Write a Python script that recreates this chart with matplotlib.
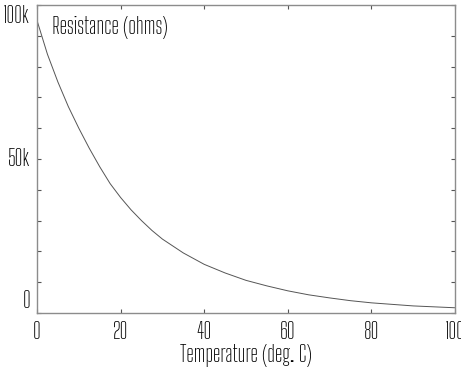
import matplotlib
matplotlib.use("Agg")
import matplotlib.pyplot as plt
from matplotlib.ticker import MultipleLocator

# thermistor curve
temps = [0, 2.5, 5, 7.5, 10, 12.5, 15, 17.5, 20, 22.5, 25, 27.5, 30, 35, 40, 45, 50,
         55, 60, 65, 70, 75, 80, 85, 90, 95, 100]
res_k = [95, 84, 75, 67, 60, 53.5, 47.5, 42, 37.5, 33.5, 30, 26.8, 24, 19.5, 15.8, 13, 10.6,
         8.8, 7.2, 5.9, 4.9, 4.0, 3.3, 2.8, 2.3, 2.0, 1.7]
resist = [r * 1000 for r in res_k]

xticks = [0, 20, 40, 60, 80, 100]
yticks = [0, 50000, 100000]
ytick_labels = ["0", "50k", "100k"]

plt.rcParams['font.family'] = ['Big Shoulders Text', 'DejaVu Sans']

fig = plt.figure(figsize=(4.61, 3.72), dpi=100)
ax = fig.add_axes([37 / 461, 59 / 372, 418 / 461, 308 / 372])

ax.plot(temps, resist, color='#555555', lw=0.7)

ax.set_xlim(0, 100)
ax.set_ylim(0, 100000)
ax.set_xticks(xticks)
ax.set_xticklabels([str(t) for t in xticks])
ax.set_yticks(yticks)
ax.set_yticklabels(ytick_labels)
ax.yaxis.set_minor_locator(MultipleLocator(10000))

for sp in ax.spines.values():
    sp.set_color('#8c8c8c')
    sp.set_linewidth(1.0)

ax.tick_params(which='both', direction='in', top=True, right=True,
               length=3, width=0.8, color='#555555', labelsize=16)
ax.tick_params(axis='x', pad=6)
ax.tick_params(axis='y', pad=5)

vas = ['bottom', 'center', 'top']
for lbl, va in zip(ax.get_yticklabels(), vas):
    lbl.set_va(va)

ax.text(0.037, 0.965, "Resistance (ohms)", transform=ax.transAxes,
        fontsize=16, ha='left', va='top')
ax.set_xlabel("Temperature (deg. C)", fontsize=16, labelpad=0)

fig.savefig("out.png", dpi=100)
